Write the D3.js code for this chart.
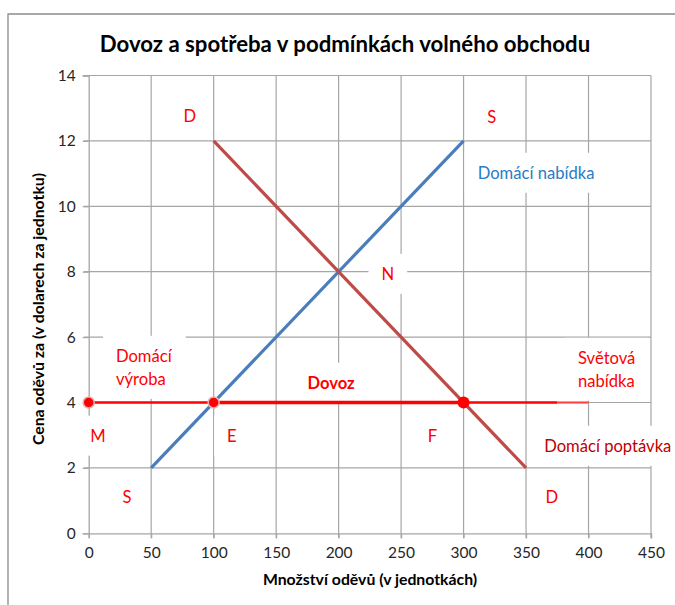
<!DOCTYPE html>
<html><head><meta charset="utf-8">
<script src="https://cdn.jsdelivr.net/npm/d3@7"></script>
<style>body{margin:0;background:#fff}svg{display:block}</style>
</head><body>
<svg id="c" width="675" height="605"></svg>
<script>
const title = "Dovoz a spotřeba v podmínkách volného obchodu";
const xTitle = "Množství oděvů (v jednotkách)";
const yTitle = "Cena oděvů za (v dolarech za jednotku)";
const xTicks = [0,50,100,150,200,250,300,350,400,450];
const yTicks = [0,2,4,6,8,10,12,14];
const supplyQ = [50,300];
const supplyP = [2,12];
const demandQ = [100,350];
const demandP = [12,2];
const worldPrice = 4;
const worldQ = [0,100,300,375,400];
const pointQ = [0,100,300];
const labelText = ["D","S","Domácí nabídka","N","Domácí\nvýroba","Dovoz","Světová\nnabídka","M","E","F","Domácí poptávka","S","D"];
const labelQ = [81,322.6,358,239.4,44.2,194,414,7.4,114.6,275,415.4,30.6,370.6];
const labelP = [12.76,12.73,11.02,7.93,5.07,4.6,5.01,2.98,2.98,2.98,2.67,1.11,1.11];

const FONT = "Lato, 'Open Sans', sans-serif";
const svg = d3.select("#c");
const x = d3.scaleLinear().domain([0,450]).range([88.7,651]);
const y = d3.scaleLinear().domain([0,14]).range([533.3,75.5]);

// outer border
svg.append("path").attr("d","M8,605 V14 H675").attr("fill","none").attr("stroke","#8c8c8c").attr("stroke-width",1.3);

// title
svg.append("text").attr("x",345).attr("y",52).attr("text-anchor","middle")
  .attr("font-family",FONT).attr("font-weight","bold").attr("font-size",22.2).attr("fill","#000").text(title);

// gridlines
const grid = svg.append("g").attr("stroke","#a6a6a6").attr("stroke-width",1.2);
grid.selectAll(".v").data(xTicks.slice(1)).join("line")
  .attr("x1",d=>x(d)).attr("x2",d=>x(d)).attr("y1",y(14)).attr("y2",y(0)+5);
grid.selectAll(".h").data(yTicks.slice(1)).join("line")
  .attr("y1",d=>y(d)).attr("y2",d=>y(d)).attr("x1",x(0)-5).attr("x2",x(450));

// axes
const xa = svg.append("g").attr("transform",`translate(0,${y(0)})`)
  .call(d3.axisBottom(x).tickValues(xTicks).tickSize(5).tickPadding(6));
const ya = svg.append("g").attr("transform",`translate(${x(0)},0)`)
  .call(d3.axisLeft(y).tickValues(yTicks).tickSize(6).tickPadding(7));
[xa,ya].forEach(a=>{
  a.select(".domain").attr("stroke","#a6a6a6").attr("stroke-width",1.3);
  a.selectAll(".tick line").attr("stroke","#a6a6a6").attr("stroke-width",1.2);
  a.selectAll("text").attr("font-family",FONT).attr("font-size",15.5).attr("fill","#262626");
});
xa.selectAll("text").attr("dy","0.9em");

// axis titles
svg.append("text").attr("x",370).attr("y",585).attr("text-anchor","middle")
  .attr("font-family",FONT).attr("font-weight","bold").attr("font-size",15.8).attr("fill","#000").text(xTitle);
svg.append("text").attr("transform","translate(44,309) rotate(-90)").attr("text-anchor","middle")
  .attr("font-family",FONT).attr("font-weight","bold").attr("font-size",15.8).attr("fill","#000").text(yTitle);

// label boxes (under series), label texts (above series)
const boxG = svg.append("g");
const series = svg.append("g");
const textG = svg.append("g");
labelText.forEach((t,i)=>{
  const lines = t.split("\n");
  const cx = x(labelQ[i]), cy = y(labelP[i]);
  const bold = t==="Dovoz";
  const color = t==="Domácí nabídka" ? "#2b7bc4" : (t==="Domácí poptávka" ? "#c00000" : "#ff0000");
  const lh = 23;
  const txt = textG.append("text").attr("text-anchor","middle").attr("font-family",FONT)
    .attr("font-size",16.6).attr("fill",color).attr("font-weight",bold?"bold":"normal");
  lines.forEach((l,j)=>{
    txt.append("tspan").attr("x",cx).attr("y",cy + (j-(lines.length-1)/2)*lh).attr("dy","0.35em").text(l);
  });
  if(lines.length>1) txt.attr("text-anchor","start").selectAll("tspan").attr("x",cx-28);
  const bb = txt.node().getBBox();
  boxG.append("rect").attr("fill","#fff")
    .attr("x",bb.x-13).attr("y",bb.y-10).attr("width",bb.width+26).attr("height",bb.height+20);
});

// series
const line = d3.line().x(d=>x(d[0])).y(d=>y(d[1]));
series.append("path").datum(supplyQ.map((q,i)=>[q,supplyP[i]])).attr("d",line)
  .attr("fill","none").attr("stroke","#4a7ebb").attr("stroke-width",3.2);
series.append("path").datum(demandQ.map((q,i)=>[q,demandP[i]])).attr("d",line)
  .attr("fill","none").attr("stroke","#be4b48").attr("stroke-width",3.2);

// world supply line segments
const segW = [2.6,3.6,2.6,2];
const segC = ["#ff0000","#ff0000","#ff0000","#ff3b3b"];
for(let i=0;i<worldQ.length-1;i++){
  series.append("path").datum([[worldQ[i],worldPrice],[worldQ[i+1],worldPrice]]).attr("d",line)
    .attr("fill","none").attr("stroke",segC[i]).attr("stroke-width",segW[i]);
}
// markers
const mr = [5.5,5.5,6];
const ms = ["#d9b3b3","#e8b0b0","none"];
series.selectAll(".pt").data(pointQ).join("circle")
  .attr("cx",d=>x(d)).attr("cy",y(worldPrice)).attr("r",(d,i)=>mr[i])
  .attr("fill","#ff0000").attr("stroke",(d,i)=>ms[i]).attr("stroke-width",1.5);
</script>
</body></html>
